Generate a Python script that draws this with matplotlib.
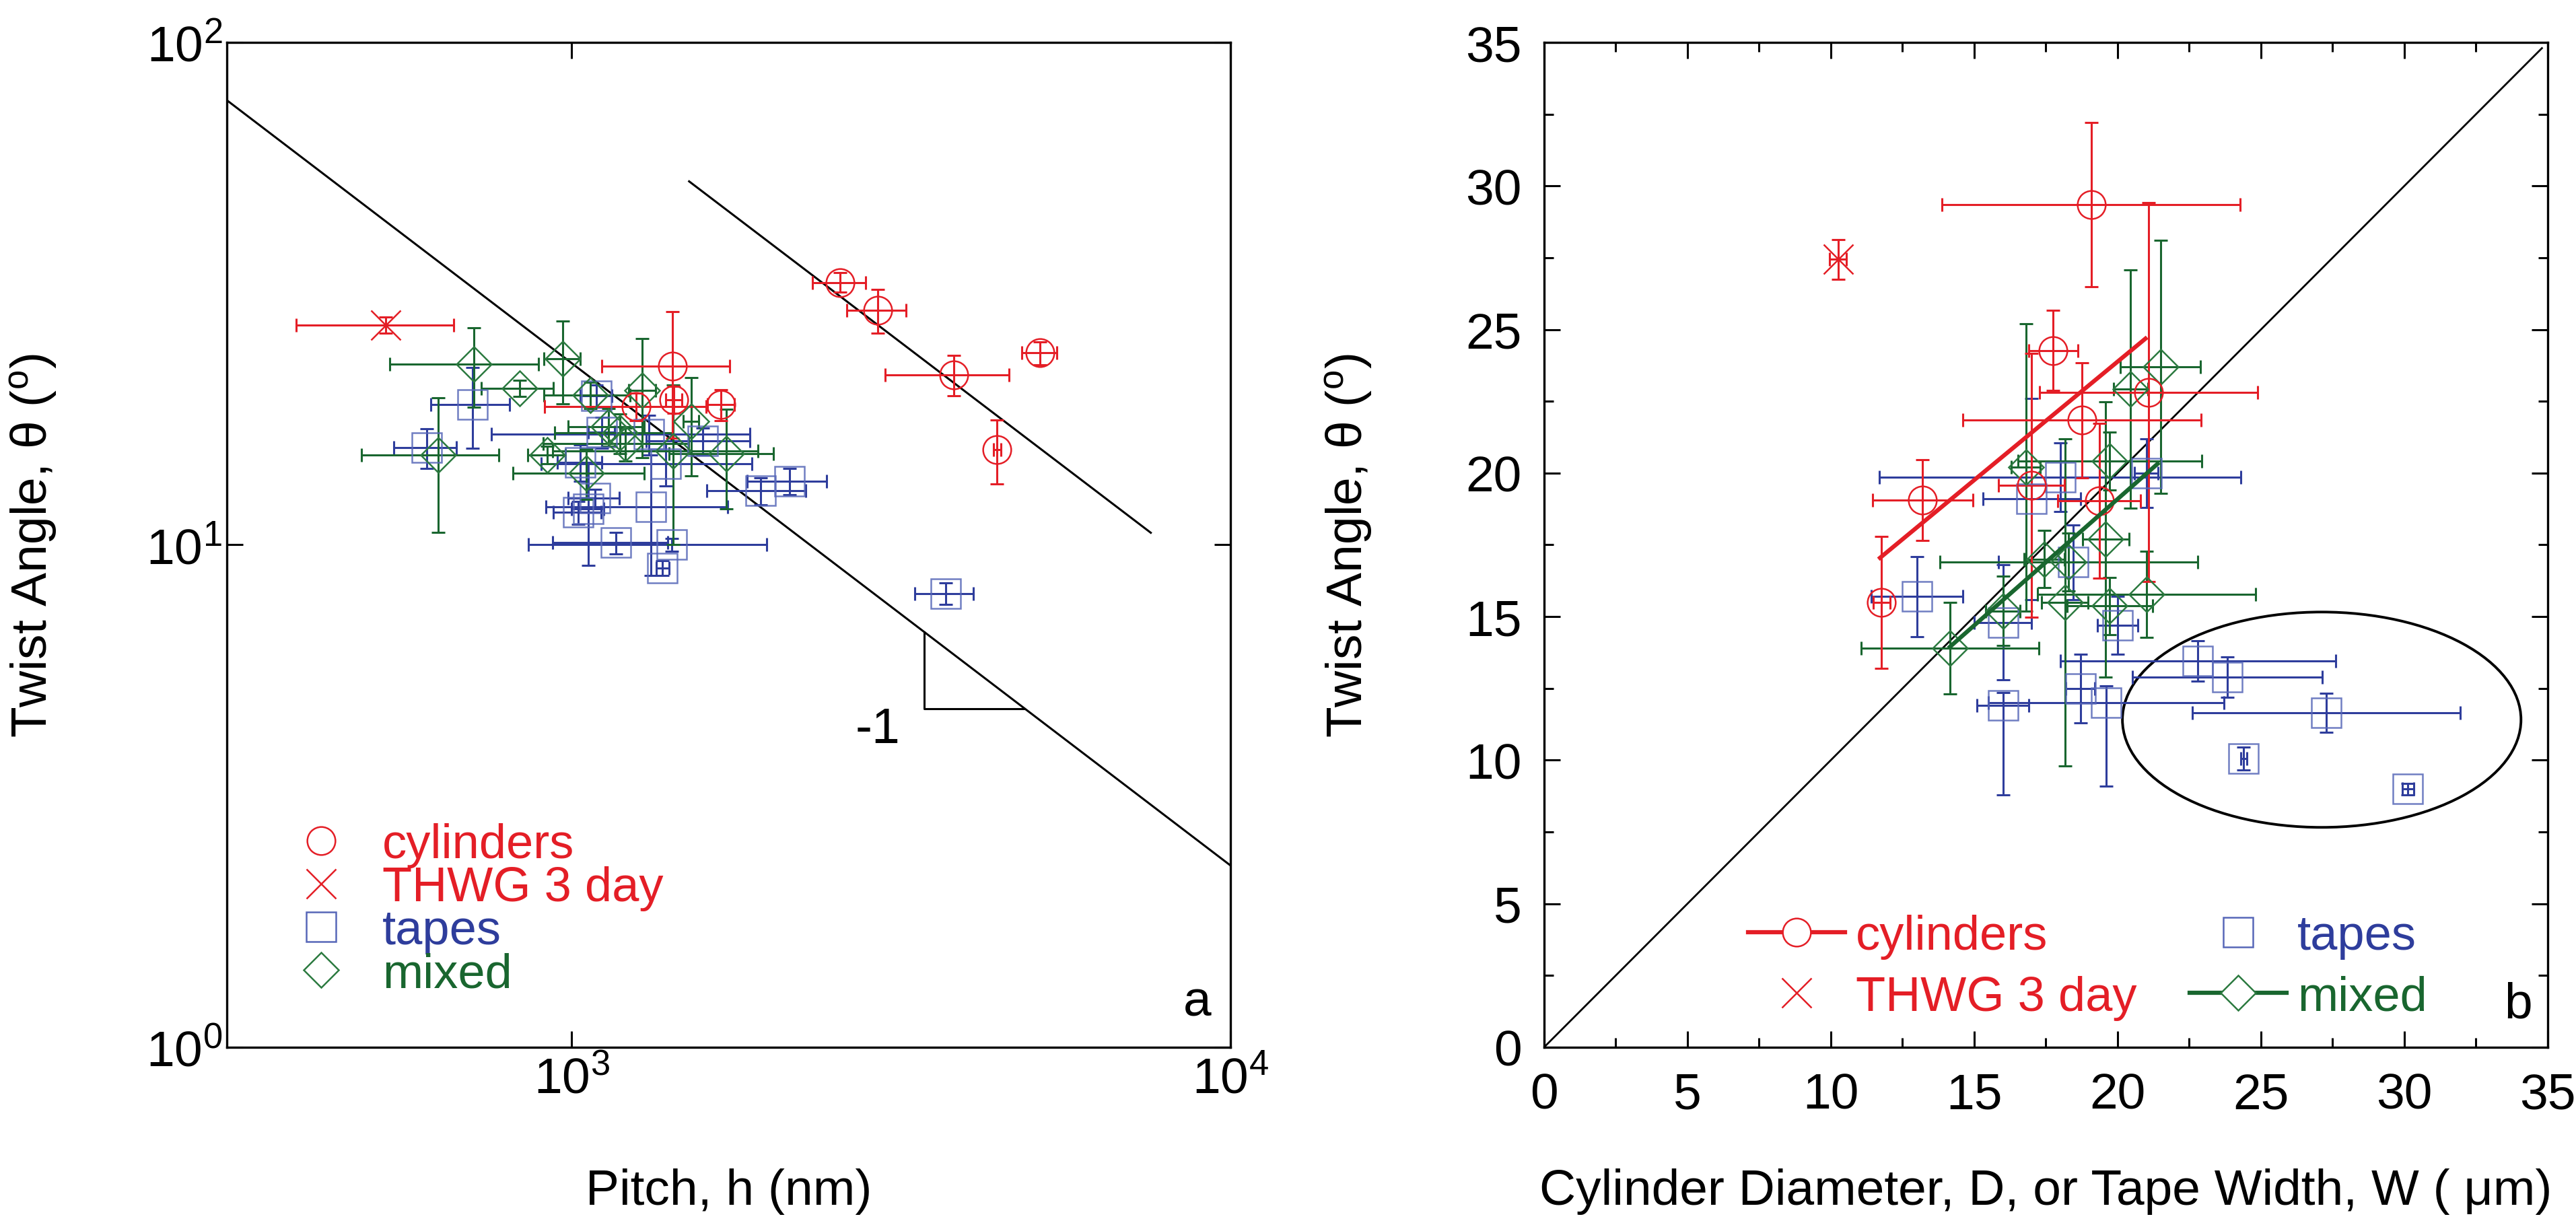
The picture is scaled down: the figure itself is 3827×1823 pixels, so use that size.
import matplotlib
matplotlib.use("Agg")
import matplotlib.pyplot as plt
from matplotlib.lines import Line2D
from matplotlib.patches import Ellipse
from matplotlib.ticker import FixedLocator, NullLocator, MultipleLocator, LogFormatterSciNotation

plt.rcParams['font.family'] = ['Liberation Sans', 'DejaVu Sans']
plt.rcParams['mathtext.fontset'] = 'custom'
plt.rcParams['mathtext.rm'] = 'Liberation Sans'
plt.rcParams['mathtext.it'] = 'Liberation Sans:italic'
plt.rcParams['mathtext.bf'] = 'Liberation Sans:bold'
plt.rcParams['mathtext.sf'] = 'Liberation Sans'
plt.rcParams['mathtext.default'] = 'regular'

RED = '#E41E26'
BLUE = '#2E3D9C'
BLUE_M = '#5767B8'
GREEN = '#19662F'
GREEN_M = '#2C7A40'

# ---------------- Panel a data (pitch h in nm, twist angle in deg) ----------------
cyl_h = [2557, 2918, 3800, 4425, 5137, 1424, 1254, 1430, 1687]
cyl_t = [33.3, 29.3, 21.8, 15.45, 24.1, 22.7, 18.85, 19.45, 19.04]
cyl_herr = [235, 300, 810, 60, 310, 312, 345, 40, 80]
cyl_terr = [1.5, 2.9, 2.0, 2.25, 1.25, 6.4, 1.2, 1.2, 1.35]

thwg_h = [522]
thwg_t = [27.4]
thwg_herr = [140]
thwg_terr = [1.0]

tape_h = [708, 603, 1091, 1320, 1169, 1419, 1375, 1023, 1085, 1060, 1031, 1389, 1581, 1111, 1310, 1934, 2142, 3693]
tape_t = [19.05, 15.6, 19.8, 11.9, 10.1, 10.0, 9.0, 11.6, 12.4, 11.8, 14.6, 14.5, 16.1, 16.75, 16.6, 12.8, 13.4, 8.0]
tape_herr = [97, 66, 60, 406, 232, 558, 30, 85, 96, 60, 80, 490, 283, 50, 554, 330, 297, 375]
tape_terr = [3.5, 1.4, 1.0, 3.2, 0.5, 0.3, 0.3, 0.6, 0.5, 2.7, 1.2, 1.4, 1.0, 1.2, 1.5, 0.8, 0.8, 0.4]

mix_h = [711, 970, 834, 628, 919, 1052, 1068, 1280, 1518, 1716, 1427, 1183, 1206, 1138]
mix_t = [22.9, 23.5, 20.5, 15.1, 15.1, 13.9, 19.85, 20.3, 17.6, 15.2, 15.4, 16.7, 15.9, 17.2]
mix_herr = [181, 62, 104, 148, 60, 238, 160, 60, 40, 310, 490, 240, 300, 150]
mix_terr = [4.1, 4.4, 0.75, 4.5, 0.6, 1.6, 1.2, 5.4, 3.9, 3.4, 5.4, 1.5, 1.2, 1.5]

guide1_h = [300, 10000]
guide1_t = [76.7, 2.3]
guide2_h = [1508, 7568]
guide2_t = [52.9, 10.57]
tri_h = [3430, 3430, 4873]
tri_t = [6.7, 4.72, 4.72]

# ---------------- Panel b data (diameter/width in um, twist angle in deg) ----------------
cyl_d = [19.08, 17.76, 18.76, 21.08, 17.0, 19.36, 13.2, 11.77]
cyl_th = [29.35, 24.27, 21.84, 22.82, 19.57, 19.03, 19.06, 15.5]
cyl_derr = [5.2, 0.85, 4.15, 3.8, 1.15, 1.45, 1.75, 0.3]
cyl_therr = [2.85, 1.4, 2.0, 6.6, 4.6, 2.7, 1.4, 2.3]

thwg_d = [10.25]
thwg_th = [27.44]
thwg_derr = [0.3]
thwg_therr = [0.7]

tape_w = [13.0, 16.0, 19.6, 18.7, 20.0, 16.0, 18.0, 17.0, 21.0, 18.45, 22.8, 23.83, 27.27, 24.4, 30.13]
tape_th = [15.7, 11.9, 12.0, 12.5, 14.7, 14.8, 19.85, 19.1, 20.0, 16.9, 13.46, 12.89, 11.66, 10.05, 9.0]
tape_werr = [1.6, 0.9, 4.1, 0.5, 0.7, 1.0, 6.3, 1.7, 0.4, 2.6, 4.8, 3.3, 4.67, 0.1, 0.2]
tape_therr_lo = [1.4, 3.1, 2.9, 1.2, 1.0, 2.0, 1.2, 3.5, 1.2, 1.3, 0.7, 0.7, 0.68, 0.4, 0.2]
tape_therr_hi = [1.4, 0.45, 0.6, 1.2, 1.0, 2.0, 1.2, 3.5, 1.2, 1.3, 0.7, 0.7, 0.68, 0.4, 0.2]

mix_w = [14.15, 16.0, 16.8, 17.44, 18.3, 18.16, 19.73, 19.59, 19.73, 20.45, 21.5, 21.02]
mix_th = [13.9, 15.2, 20.2, 17.0, 16.9, 15.5, 20.42, 17.69, 15.37, 22.93, 23.7, 15.78]
mix_werr = [3.1, 0.6, 0.5, 0.7, 4.5, 0.8, 3.2, 0.8, 1.5, 0.6, 1.4, 3.8]
mix_therr = [1.6, 1.2, 5.0, 1.0, 1.0, 5.7, 1.0, 4.8, 1.0, 4.15, 4.4, 1.5]

cyl_fit_d = [11.66, 21.03]
cyl_fit_th = [17.0, 24.73]
mix_fit_d = [14.1, 21.45]
mix_fit_th = [13.9, 20.37]
diag_d = [0, 34.8]
diag_th = [0, 34.8]

ell_center = (27.12, 11.41)
ell_w = 13.9
ell_h = 7.5

FS = 54
LFS = 52
ELW = 2.2
CAP = 7
MS_O, MS_S, MS_D, MS_X = 30, 31, 26, 31

fig = plt.figure(figsize=(38.27, 18.24), dpi=100)
ax1 = fig.add_axes([0.0881, 0.1464, 0.3896, 0.8185])
ax2 = fig.add_axes([0.5994, 0.1464, 0.3896, 0.8185])


def draw_series(ax, x, y, xe, ye, ecol, mcol, marker, ms, mew=1.8, alpha=1.0, z=3):
    ax.errorbar(x, y, xerr=xe, yerr=ye, fmt='none', ecolor=ecol, elinewidth=ELW,
                capsize=CAP, capthick=ELW, zorder=z)
    ax.plot(x, y, ls='none', marker=marker, ms=ms, mfc='none', mec=mcol, mew=mew,
            alpha=alpha, zorder=z + 0.5)


# ---------------- Panel a ----------------
ax1.set_xscale('log')
ax1.set_yscale('log')
ax1.set_xlim(300, 10000)
ax1.set_ylim(1, 100)

ax1.plot(guide1_h, guide1_t, color='black', lw=2.2, zorder=2)
ax1.plot(guide2_h, guide2_t, color='black', lw=2.2, zorder=2)
ax1.plot(tri_h, tri_t, color='black', lw=2.2, zorder=2)
ax1.text(2917, 4.30, '-1', fontsize=FS, ha='center', va='center')

draw_series(ax1, tape_h, tape_t, tape_herr, tape_terr, BLUE, BLUE_M, 's', MS_S, alpha=0.85)
draw_series(ax1, mix_h, mix_t, mix_herr, mix_terr, GREEN, GREEN_M, 'D', MS_D)
draw_series(ax1, cyl_h, cyl_t, cyl_herr, cyl_terr, RED, RED, 'o', MS_O)
draw_series(ax1, thwg_h, thwg_t, thwg_herr, thwg_terr, RED, RED, 'x', MS_X)

ax1.xaxis.set_major_locator(FixedLocator([1000, 10000]))
ax1.yaxis.set_major_locator(FixedLocator([1, 10, 100]))
ax1.xaxis.set_major_formatter(LogFormatterSciNotation())
ax1.yaxis.set_major_formatter(LogFormatterSciNotation())
ax1.xaxis.set_minor_locator(NullLocator())
ax1.yaxis.set_minor_locator(NullLocator())
ax1.tick_params(which='major', direction='in', length=17, width=2.2, top=True, right=True,
                labelsize=FS)
ax1.tick_params(axis='y', pad=5)
ax1.tick_params(axis='x', pad=9)

ax1.set_xlabel('Pitch, h (nm)', fontsize=FS)
ax1.set_ylabel(r'Twist Angle, θ ($^{\mathrm{o}}$)', fontsize=FS)
ax1.xaxis.set_label_coords(0.5, -0.12)
ax1.yaxis.set_label_coords(-0.167, 0.5)
ax1.text(0.967, 0.045, 'a', transform=ax1.transAxes, fontsize=FS, ha='center', va='center')

h_cyl = Line2D([], [], ls='none', marker='o', ms=MS_O, mfc='none', mec=RED, mew=1.8)
h_thwg = Line2D([], [], ls='none', marker='x', ms=MS_X, mec=RED, mew=1.8)
h_tape = Line2D([], [], ls='none', marker='s', ms=MS_S, mfc='none', mec=BLUE_M, mew=1.8)
h_mix = Line2D([], [], ls='none', marker='D', ms=MS_D, mfc='none', mec=GREEN_M, mew=1.8)
leg1 = ax1.legend([h_cyl, h_thwg, h_tape, h_mix], ['cylinders', 'THWG 3 day', 'tapes', 'mixed'],
                  loc='lower left', bbox_to_anchor=(0.0456, 0.050), frameon=False,
                  borderpad=0, borderaxespad=0, handlelength=2.0, handletextpad=0.26,
                  labelspacing=-0.04, fontsize=LFS, labelcolor=[RED, RED, BLUE, GREEN])

# ---------------- Panel b ----------------
ax2.set_xlim(0, 35)
ax2.set_ylim(0, 35)
ax2.plot(diag_d, diag_th, color='black', lw=2.0, zorder=2)
ax2.add_patch(Ellipse(ell_center, ell_w, ell_h, fill=False, ec='black', lw=2.8, zorder=2))

draw_series(ax2, tape_w, tape_th, tape_werr, [tape_therr_lo, tape_therr_hi], BLUE, BLUE_M, 's', MS_S, alpha=0.85)
draw_series(ax2, mix_w, mix_th, mix_werr, mix_therr, GREEN, GREEN_M, 'D', MS_D)
draw_series(ax2, cyl_d, cyl_th, cyl_derr, cyl_therr, RED, RED, 'o', MS_O)
draw_series(ax2, thwg_d, thwg_th, thwg_derr, thwg_therr, RED, RED, 'x', MS_X)
ax2.plot(cyl_fit_d, cyl_fit_th, color=RED, lw=4.5, zorder=5, solid_capstyle='butt')
ax2.plot(mix_fit_d, mix_fit_th, color=GREEN, lw=4.5, zorder=5, solid_capstyle='butt')

ax2.xaxis.set_major_locator(MultipleLocator(5))
ax2.yaxis.set_major_locator(MultipleLocator(5))
ax2.xaxis.set_minor_locator(MultipleLocator(2.5))
ax2.yaxis.set_minor_locator(MultipleLocator(2.5))
ax2.tick_params(which='major', direction='in', length=17, width=2.2, top=True, right=True,
                labelsize=FS)
ax2.tick_params(which='minor', direction='in', length=10, width=2.2, top=True, right=True)
ax2.tick_params(axis='y', which='major', pad=24)
ax2.tick_params(axis='x', which='major', pad=26)

ax2.set_xlabel('Cylinder Diameter, D, or Tape Width, W ( μm)', fontsize=FS)
ax2.set_ylabel(r'Twist Angle, θ ($^{\mathrm{o}}$)', fontsize=FS)
ax2.xaxis.set_label_coords(0.5, -0.12)
ax2.yaxis.set_label_coords(-0.169, 0.5)
ax2.text(0.9705, 0.043, 'b', transform=ax2.transAxes, fontsize=FS, ha='center', va='center')

h2_cyl = Line2D([], [], color=RED, lw=4.5, marker='o', ms=MS_O, mfc='white', mec=RED, mew=1.8)
h2_thwg = Line2D([], [], ls='none', marker='x', ms=MS_X, mec=RED, mew=1.8)
h2_tape = Line2D([], [], ls='none', marker='s', ms=MS_S, mfc='none', mec=BLUE_M, mew=1.8)
h2_mix = Line2D([], [], color=GREEN, lw=4.5, marker='D', ms=MS_D, mfc='white', mec=GREEN_M, mew=1.8)
legA = ax2.legend([h2_cyl, h2_thwg], ['cylinders', 'THWG 3 day'],
                  loc='lower left', bbox_to_anchor=(0.203, 0.027), frameon=False,
                  borderpad=0, borderaxespad=0, handlelength=2.0, handletextpad=0.22,
                  labelspacing=0.33, fontsize=LFS, labelcolor=[RED, RED])
ax2.add_artist(legA)
legB = ax2.legend([h2_tape, h2_mix], ['tapes', 'mixed'],
                  loc='lower left', bbox_to_anchor=(0.643, 0.027), frameon=False,
                  borderpad=0, borderaxespad=0, handlelength=2.0, handletextpad=0.22,
                  labelspacing=0.33, fontsize=LFS, labelcolor=[BLUE, GREEN])

for ax in (ax1, ax2):
    for s in ax.spines.values():
        s.set_linewidth(2.4)

fig.savefig('out.png', dpi=100)
